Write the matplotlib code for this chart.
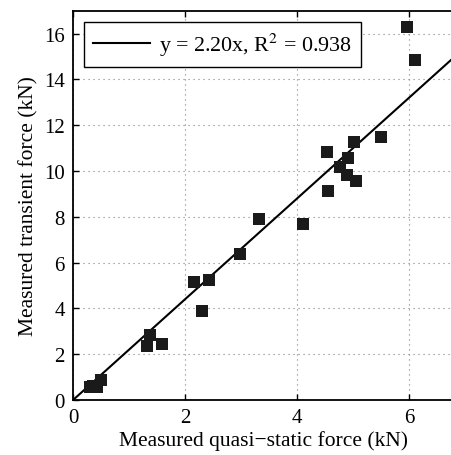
import numpy as np
import matplotlib
matplotlib.use('Agg')
import matplotlib.pyplot as plt

plt.rcParams['font.family'] = ['Liberation Serif', 'DejaVu Serif']
plt.rcParams['mathtext.fontset'] = 'stix'

# Quasi-static vs transient force measurements (kN)
quasi_static = [5.96, 6.11, 5.50, 5.01, 4.54, 4.91, 4.77, 4.89, 5.06, 4.55,
                4.11, 3.32, 2.98, 2.16, 2.42, 2.30, 1.38, 1.32, 1.58,
                0.49, 0.30, 0.36, 0.42]
transient = [16.31, 14.86, 11.49, 11.28, 10.84, 10.56, 10.16, 9.82, 9.57, 9.11,
             7.70, 7.89, 6.36, 5.17, 5.24, 3.87, 2.83, 2.37, 2.45,
             0.87, 0.57, 0.60, 0.55]
slope = 2.20
r_squared = 0.938

x_ticks = [0, 2, 4, 6]
y_ticks = [0, 2, 4, 6, 8, 10, 12, 14, 16]
x_max = 6.8
y_max = 17

fig = plt.figure(figsize=(4.51, 4.56), dpi=100)
# right edge sits just past the figure border, so the right spine is cut off
ax = fig.add_axes([0.162, 0.1206, 0.8443, 0.8537])

fit_x = np.array([0, x_max])
ax.plot(fit_x, slope * fit_x, color='black', lw=1.5,
        label=r'y = {:.2f}x, R$^{{2}}$ = {:.3f}'.format(slope, r_squared), zorder=3)
ax.plot(quasi_static, transient, 's', color='#1a1a1a', markersize=8.5,
        markeredgewidth=0, zorder=4)

ax.set_xlim(0, x_max)
ax.set_ylim(0, y_max)
ax.set_xticks(x_ticks)
ax.set_yticks(y_ticks)
ax.grid(True, color='#808080', linestyle=(0, (1, 3.5)), linewidth=0.8)
ax.tick_params(direction='in', length=4, width=1, labelsize=15, pad=6,
               top=True, right=False)
for spine in ax.spines.values():
    spine.set_linewidth(1.3)

ax.set_xlabel('Measured quasi\u2212static force (kN)', fontsize=15.5, labelpad=2)
ax.set_ylabel('Measured transient force (kN)', fontsize=15.5, labelpad=4)

leg = ax.legend(loc='upper left', fontsize=15.8, frameon=True, fancybox=False,
                edgecolor='black', framealpha=1, handlelength=2.6,
                handletextpad=0.4, borderaxespad=0.5, borderpad=0.42)
leg.get_frame().set_linewidth(1.0)

fig.savefig('out.png', dpi=100)
